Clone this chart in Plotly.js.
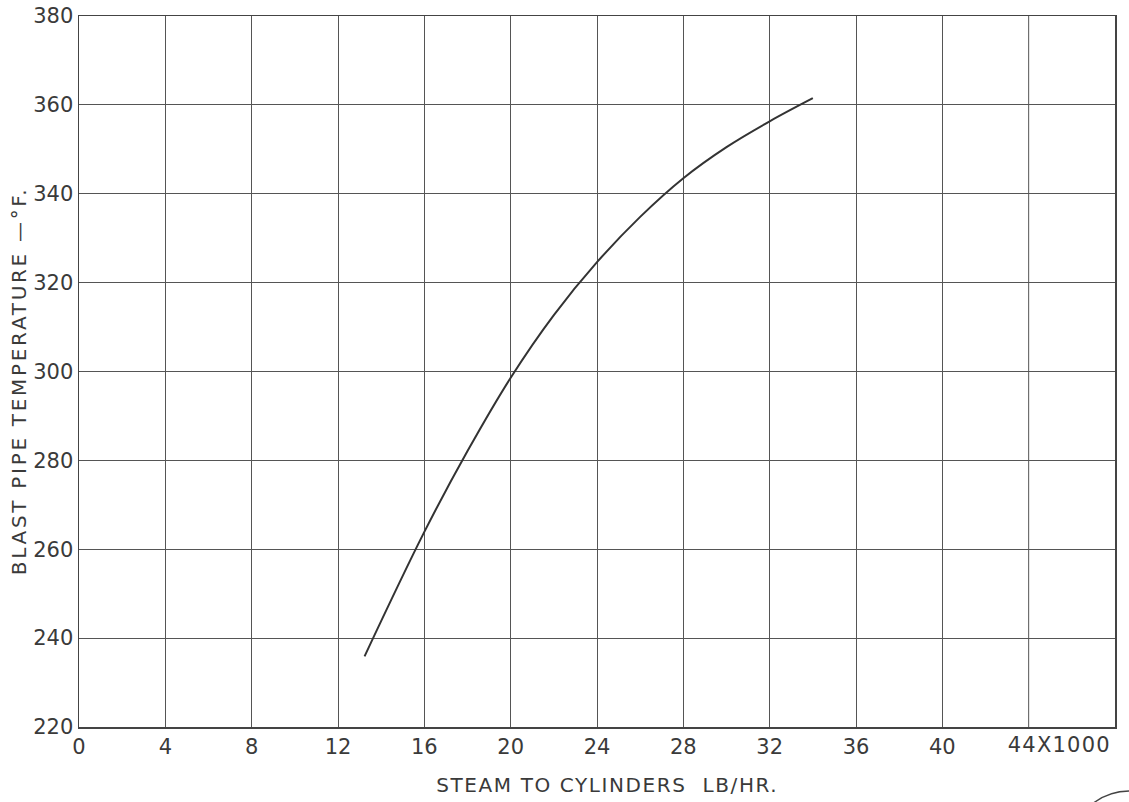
<!DOCTYPE html>
<html>
<head>
<meta charset="utf-8">
<script src="https://cdn.plot.ly/plotly-3.0.1.min.js"></script>
<style>
html,body{margin:0;padding:0;background:#fff;}
#chart{width:1129px;height:802px;}
.annotation-text.wide{letter-spacing:1.6px;}
.annotation-text.wider{letter-spacing:2.7px;}
.annotation-text.tickwide{letter-spacing:1.2px;}
</style>
</head>
<body>
<div id="chart"></div>
<script>
// Steam to cylinders (x1000 lb/hr)
var steam = [13.23, 16, 18, 20, 22, 24, 26, 28, 30, 32, 34];
// Blast pipe temperature (deg F)
var temperature = [235.9, 263.9, 282.1, 298.6, 312.7, 324.6, 334.8, 343.5, 350.5, 356.3, 361.5];

var xTickVals = [0, 4, 8, 12, 16, 20, 24, 28, 32, 36, 40];
var xTickText = ['0', '4', '8', '12', '16', '20', '24', '28', '32', '36', '40'];
var yTickVals = [220, 240, 260, 280, 300, 320, 340, 360, 380];
var yTickText = ['220', '240', '260', '280', '300', '320', '340', '360', '380'];

var ink = '#3a3a3a';
var fontFam = 'DejaVu Sans, Verdana, sans-serif';

var trace = {
  x: steam, y: temperature, type: 'scatter', mode: 'lines',
  line: {color: '#333', width: 2, shape: 'spline', smoothing: 1.0},
  hoverinfo: 'skip'
};

var layout = {
  width: 1129, height: 802,
  margin: {l: 79, r: 14, t: 16, b: 75},
  paper_bgcolor: '#ffffff', plot_bgcolor: '#ffffff',
  showlegend: false,
  xaxis: {
    range: [0, 48], tickvals: xTickVals, ticktext: xTickText,
    showgrid: true, gridcolor: '#555', gridwidth: 1,
    zeroline: false, showline: true, linecolor: '#444', linewidth: 1.5, mirror: true,
    ticks: '', ticklen: 0,
    tickfont: {family: fontFam, size: 21, color: ink},
    fixedrange: true
  },
  yaxis: {
    range: [220, 380], tickvals: yTickVals, ticktext: yTickText,
    showgrid: true, gridcolor: '#555', gridwidth: 1,
    zeroline: false, showline: true, linecolor: '#444', linewidth: 1.5, mirror: true,
    ticks: '', ticklen: 0,
    tickfont: {family: fontFam, size: 21, color: ink},
    fixedrange: true
  },
  shapes: [
    {type: 'line', xref: 'x', yref: 'paper', x0: 44, x1: 44, y0: 0, y1: 1, line: {color: '#555', width: 1}},
    {type: 'circle', xref: 'paper', yref: 'paper', x0: 0.9556, x1: 1.0734, y0: -0.2616, y1: -0.0900,
     line: {color: '#444', width: 1.5}}
  ],
  annotations: [
    {text: '44X1000', xref: 'x', yref: 'paper', x: 44, y: 0, xanchor: 'left', yanchor: 'top',
     xshift: -19, yshift: -4, showarrow: false, font: {family: fontFam, size: 21, color: ink}},
    {text: 'STEAM TO CYLINDERS  LB/HR.', xref: 'paper', yref: 'paper', x: 0.51, y: 0, xanchor: 'center', yanchor: 'middle',
     yshift: -58, showarrow: false, font: {family: fontFam, size: 20, color: ink}},
    {text: 'BLAST PIPE TEMPERATURE \u2014\u00b0F.', xref: 'paper', yref: 'paper', x: 0, y: 0.487, xanchor: 'center', yanchor: 'middle',
     xshift: -60, textangle: -90, showarrow: false, font: {family: fontFam, size: 20, color: ink}}
  ]
};

Plotly.newPlot('chart', [trace], layout, {staticPlot: true, displayModeBar: false}).then(function () {
  var anns = document.querySelectorAll('.annotation-text');
  if (anns[0]) anns[0].classList.add('tickwide');
  if (anns[1]) anns[1].classList.add('wide');
  if (anns[2]) anns[2].classList.add('wider');
});
</script>
</body>
</html>
